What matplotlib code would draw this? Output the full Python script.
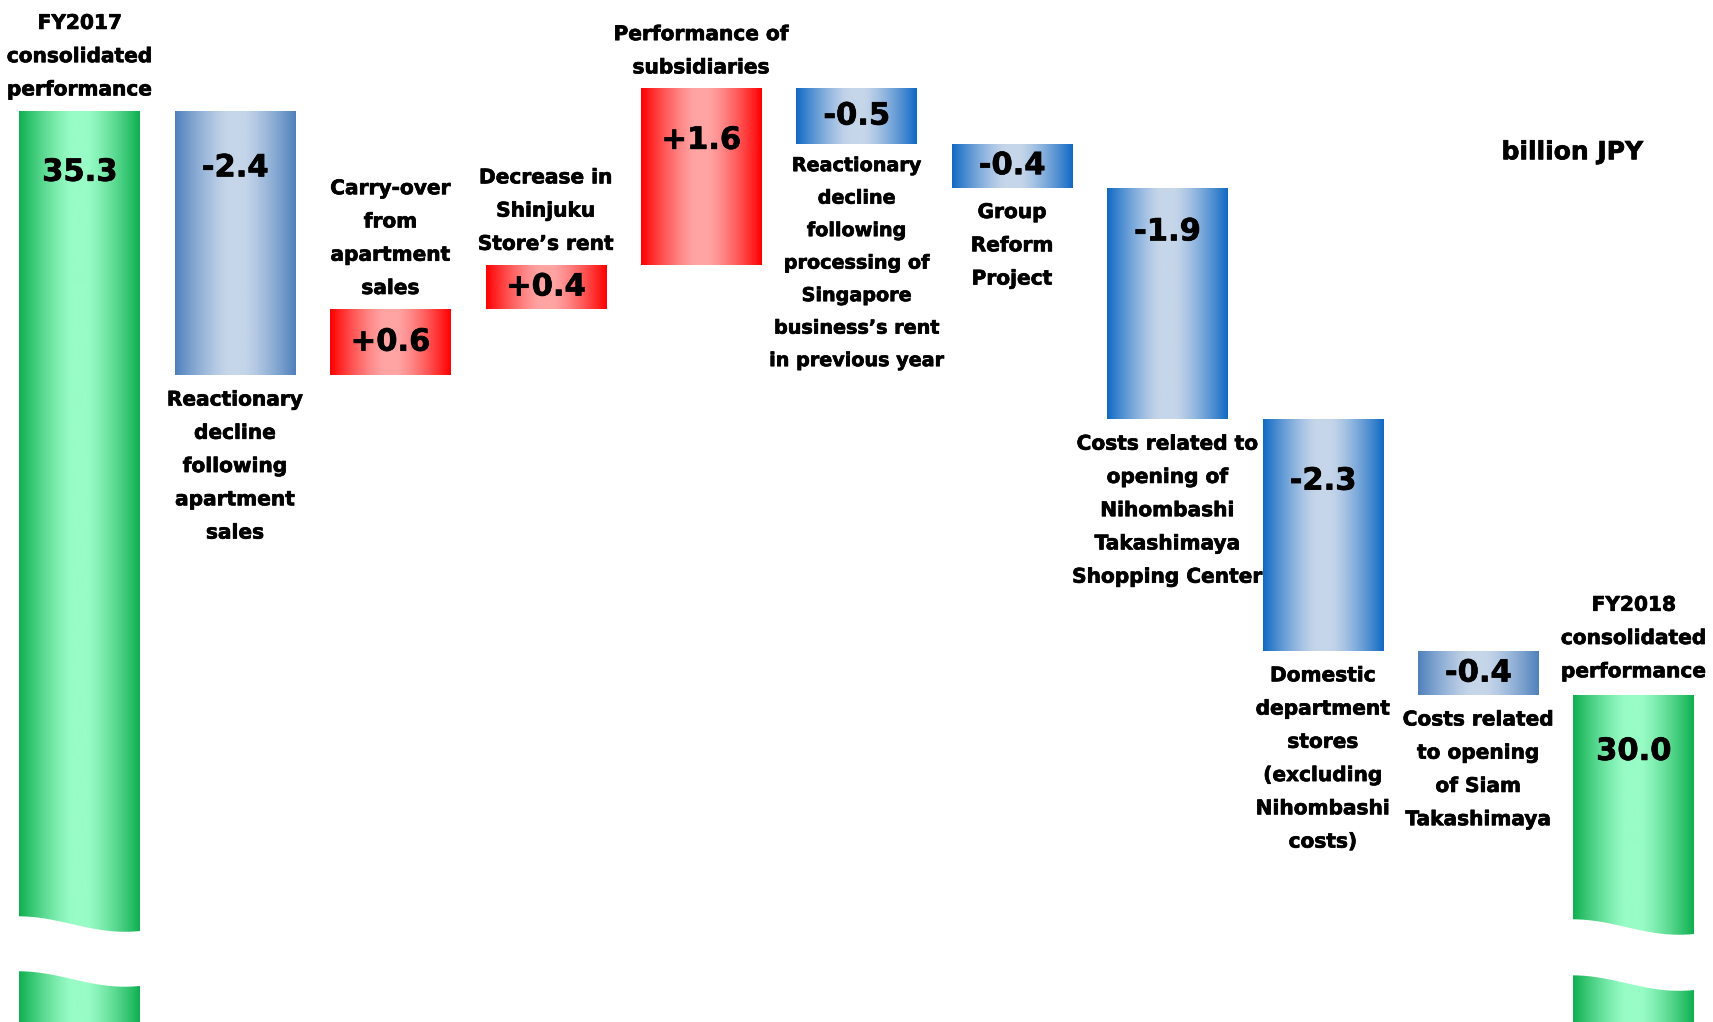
import numpy as np
import matplotlib
matplotlib.use("Agg")
import matplotlib.pyplot as plt
import matplotlib.patheffects as pe
from matplotlib.colors import to_rgb
from matplotlib.patches import Polygon, Rectangle

# ---------------- data ----------------
categories = [
    "FY2017\nconsolidated\nperformance",
    "Reactionary\ndecline\nfollowing\napartment\nsales",
    "Carry-over\nfrom\napartment\nsales",
    "Decrease in\nShinjuku\nStore\u2019s rent",
    "Performance of\nsubsidiaries",
    "Reactionary\ndecline\nfollowing\nprocessing of\nSingapore\nbusiness\u2019s rent\nin previous year",
    "Group\nReform\nProject",
    "Costs related to\nopening of\nNihombashi\nTakashimaya\nShopping Center",
    "Domestic\ndepartment\nstores\n(excluding\nNihombashi\ncosts)",
    "Costs related\nto opening\nof Siam\nTakashimaya",
    "FY2018\nconsolidated\nperformance",
]
# labelled values (billion JPY)
value_labels = ["35.3", "-2.4", "+0.6", "+0.4", "+1.6", "-0.5", "-0.4", "-1.9", "-2.3", "-0.4", "30.0"]
# bar heights as drawn in the picture (the -1.9 and -2.3 bars are drawn equally tall)
bar_heights = [35.3, -2.4, 0.6, 0.4, 1.6, -0.5, -0.4, -2.1, -2.1, -0.4, 30.0]
kinds = ["total", "delta", "delta", "delta", "delta", "delta", "delta", "delta", "delta", "delta", "total"]
unit_label = "billion JPY"

# ---------------- styles ----------------
label_side = ["above", "below", "above", "above", "above", "below", "below", "below", "below", "below", "above"]
label_size = [14.5, 14.5, 14.5, 14.5, 14.5, 13.8, 14.5, 14.5, 14.5, 14.5, 14.5]
label_spacing = [1.95, 1.95, 1.95, 1.95, 1.95, 1.90, 1.95, 1.95, 1.95, 1.95, 1.95]
label_offset = [8, -11, 8, 8, 8, -9, -11, -11, -11, -11, 10]
value_drop = [0.56, 0.52, None, None, 0.47, None, None, 0.40, 0.56, None, 0.51]
GREEN = ("#0FAF50", "#98FCC6")
RED = ("#FF0000", "#FFA3A3")
BLUE_SOFT = ("#4F81BD", "#C6D6EA")
BLUE_VIVID = ("#1069C4", "#C6D6EA")
blue_style = [None, BLUE_SOFT, None, None, None, BLUE_VIVID, BLUE_VIVID, BLUE_VIVID, BLUE_VIVID, BLUE_SOFT, None]
heavy = [pe.withStroke(linewidth=0.5, foreground="black")]

W, H, DPI = 17.13, 10.22, 100
fig = plt.figure(figsize=(W, H), dpi=DPI)
ax = fig.add_axes([0, 0, 1, 1])
ax.set_xlim(-0.513, 10.51)
ax.set_ylim(27.037, 36.302)
ax.axis("off")

bar_w = 0.777


def grad_img(edge, center, n=256):
    e = np.array(to_rgb(edge))
    c = np.array(to_rgb(center))
    t = np.linspace(0, 1, n)
    d = np.abs(t - 0.5) * 2
    f = np.clip((d - 0.12) / 0.88, 0, 1)
    f = f ** 1.3
    img = c[None, :] * (1 - f[:, None]) + e[None, :] * f[:, None]
    return img[None, :, :]


# running totals
bottoms, tops = [], []
running = 0.0
for v, k in zip(bar_heights, kinds):
    if k == "total":
        b, t = 0.0, v
        running = v
    else:
        start = running
        running = running + v
        b, t = min(start, running), max(start, running)
    bottoms.append(b)
    tops.append(t)

x = np.arange(len(bar_heights))
for i, (b, t, v, k) in enumerate(zip(bottoms, tops, bar_heights, kinds)):
    if k == "total":
        cols = GREEN
    elif v > 0:
        cols = RED
    else:
        cols = blue_style[i]
    x0, x1 = x[i] - bar_w / 2, x[i] + bar_w / 2
    im = ax.imshow(grad_img(*cols), extent=(x0, x1, b, t), aspect="auto",
                   interpolation="bilinear", zorder=2)
    clip = Rectangle((x0, b), bar_w, t - b, transform=ax.transData, visible=False)
    ax.add_patch(clip)
    im.set_clip_path(clip)

# wavy axis breaks on the total bars (white band between two waves)
break_mid = {0: (27.925, 27.427), 10: (27.898, 27.390)}
amp = 0.07
for i, (mu, ml) in break_mid.items():
    tt = np.linspace(0, 1, 60)
    xs = x[i] - bar_w / 2 - 0.005 + tt * (bar_w + 0.01)
    wav = amp * np.cos(np.pi * tt / 0.87)
    up = mu + wav
    lo = ml + wav
    pts = np.vstack([np.column_stack([xs, up]), np.column_stack([xs[::-1], lo[::-1]])])
    ax.add_patch(Polygon(pts, closed=True, facecolor="white", edgecolor="none", zorder=3))

# value labels
for i, (b, t, lab) in enumerate(zip(bottoms, tops, value_labels)):
    y = t - value_drop[i] if value_drop[i] is not None else (b + t) / 2
    ax.text(x[i], y, lab, ha="center", va="center", fontsize=22,
            fontweight="bold", color="black", zorder=5, family="DejaVu Sans",
            path_effects=heavy)

# category labels
for i, (b, t, cat, side) in enumerate(zip(bottoms, tops, categories, label_side)):
    anchor = t if side == "above" else b
    ax.annotate(cat, (x[i], anchor), xytext=(0, label_offset[i]), textcoords="offset points",
                ha="center", va="bottom" if side == "above" else "top",
                fontsize=label_size[i], fontweight="bold", linespacing=label_spacing[i],
                zorder=5, family="DejaVu Sans", path_effects=heavy)

ax.text(0.918, 0.851, unit_label, transform=ax.transAxes, ha="center", va="center",
        fontsize=18, fontweight="bold", family="DejaVu Sans", path_effects=heavy)

fig.savefig("out.png", dpi=DPI, facecolor="white")
